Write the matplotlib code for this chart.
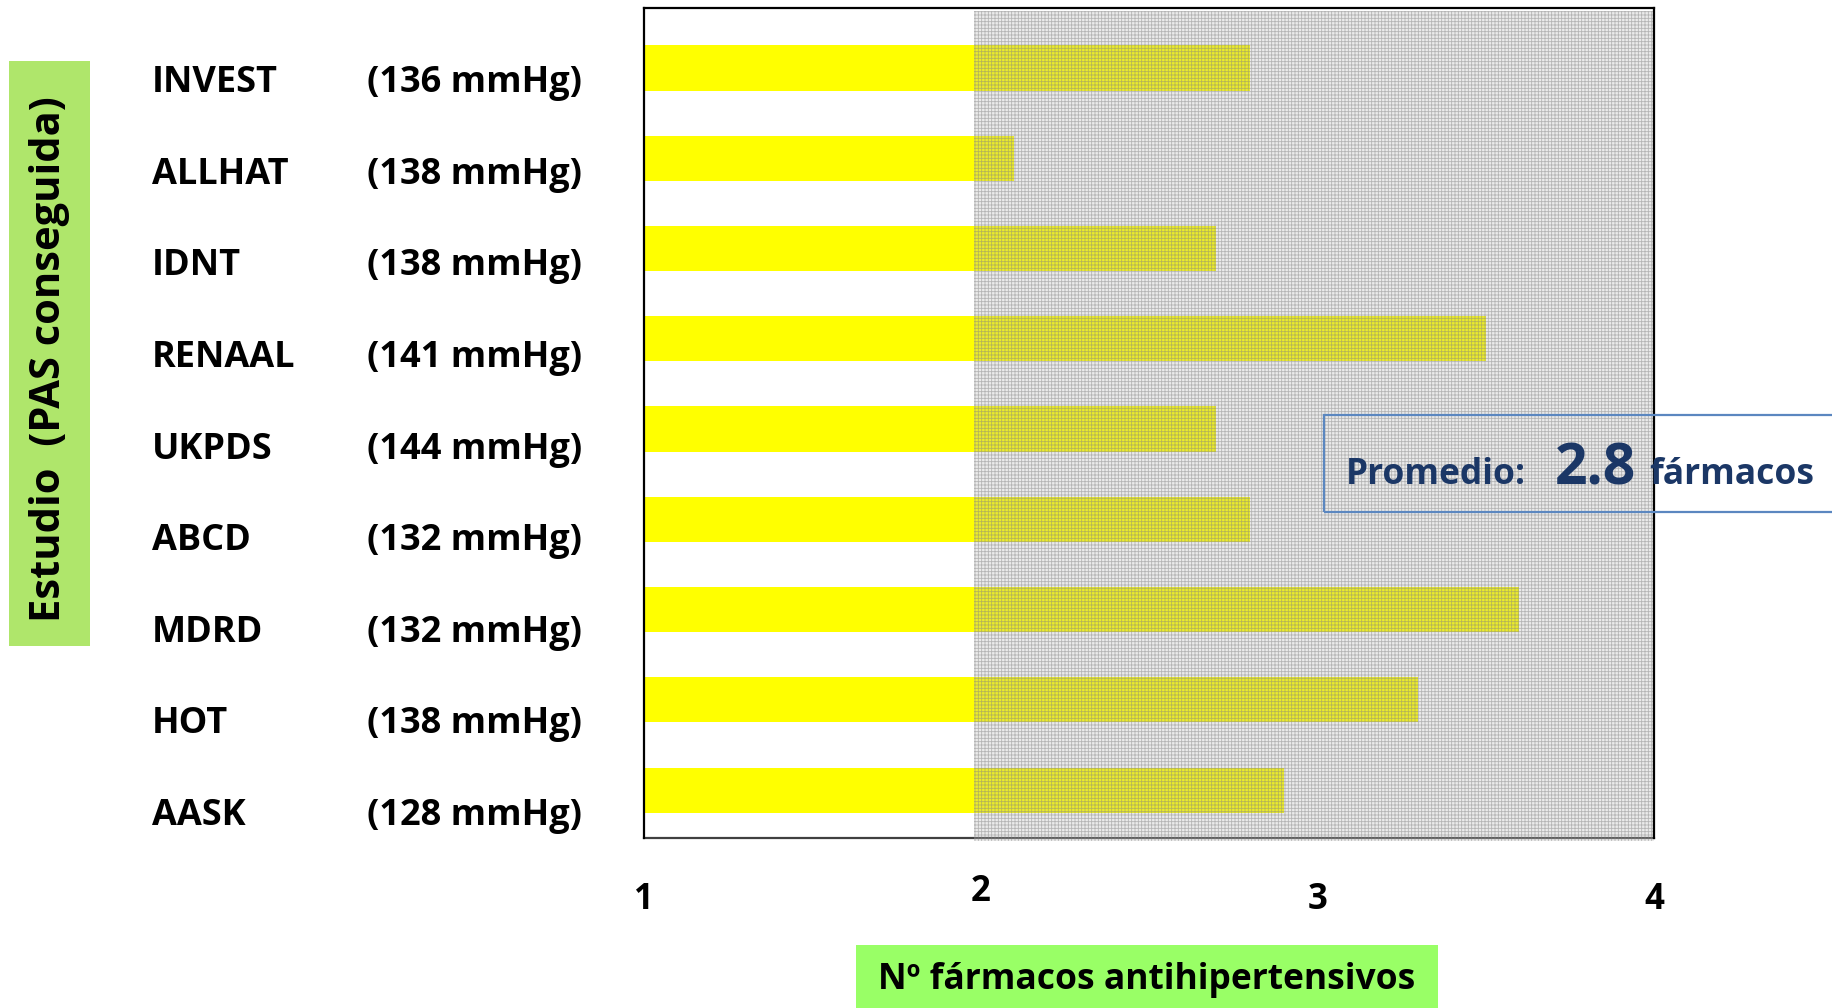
import matplotlib
matplotlib.use("Agg")
import matplotlib.pyplot as plt
from matplotlib.patches import Rectangle
from matplotlib import transforms

plt.rcParams["font.family"] = ["Open Sans", "DejaVu Sans"]
plt.rcParams["font.weight"] = "bold"
plt.rcParams["hatch.linewidth"] = 0.6

# Estudios y PAS conseguida
estudios = ["INVEST", "ALLHAT", "IDNT", "RENAAL", "UKPDS", "ABCD", "MDRD", "HOT", "AASK"]
pas = ["(136 mmHg)", "(138 mmHg)", "(138 mmHg)", "(141 mmHg)", "(144 mmHg)",
       "(132 mmHg)", "(132 mmHg)", "(138 mmHg)", "(128 mmHg)"]
farmacos = [2.8, 2.1, 2.7, 3.5, 2.7, 2.8, 3.6, 3.3, 2.9]
x_ticks = [1, 2, 3, 4]
promedio = 2.8

fig = plt.figure(figsize=(18.33, 10.08), dpi=100)
ax = fig.add_axes([0.3513, 0.1687, 0.5511, 0.8234])

n = len(estudios)
ypos = [n - 1 - i for i in range(n)]

ax.barh(ypos, [v - 1 for v in farmacos], left=1, height=0.5,
        color="#FFFF00", edgecolor="none", zorder=2)

# Zona sombreada a partir de 2 fármacos
zona = Rectangle((1.98, -0.004), 2.02, 1.0,
                 transform=transforms.blended_transform_factory(ax.transData, ax.transAxes),
                 facecolor=(0.7, 0.7, 0.7, 0.25), edgecolor=(0.5, 0.5, 0.5, 0.5),
                 hatch="+++++", linewidth=0, zorder=3, clip_on=False)
ax.add_patch(zona)

ax.set_xlim(1, 4)
ax.set_ylim(-0.53, 8.665)
ax.set_yticks([])
ax.set_xticks(x_ticks)
ax.set_xticklabels([str(t) for t in x_ticks], fontsize=25, fontweight="bold")
ax.tick_params(axis="x", length=0, pad=32)
for lbl, t in zip(ax.get_xticklabels(), x_ticks):
    if t == 2:
        lbl.set_y(0.01)

for side in ["left", "top", "right"]:
    ax.spines[side].set_color("black")
    ax.spines[side].set_linewidth(1.6)
    ax.spines[side].set_zorder(4)
ax.spines["bottom"].set_color("#404040")
ax.spines["bottom"].set_linewidth(1.6)

# Etiquetas de cada estudio
trans = transforms.blended_transform_factory(fig.transFigure, ax.transData)
for i, (y, name, p) in enumerate(zip(ypos, estudios, pas)):
    yl = y - 0.27 - i * 0.0142
    ax.text(0.0829, yl, name, transform=trans, fontsize=26, fontweight="bold",
            va="baseline", ha="left", color="black")
    ax.text(0.2002, yl, p, transform=trans, fontsize=26, fontweight="bold",
            va="baseline", ha="left", color="black")

# Título del eje Y en caja verde
fig.patches.append(Rectangle((9 / 1833, 1 - 646 / 1008), 81 / 1833, 585 / 1008,
                             transform=fig.transFigure, facecolor="#AFE66B",
                             edgecolor="none", zorder=1))
fig.text(50 / 1833, 1 - 359 / 1008, "Estudio  (PAS conseguida)", rotation=90,
         fontsize=30, fontweight="bold", ha="center", va="center", color="black")

# Título del eje X en caja verde
fig.patches.append(Rectangle((856 / 1833, 0), 582 / 1833, 63 / 1008,
                             transform=fig.transFigure, facecolor="#99FF66",
                             edgecolor="none", zorder=1))
fig.text(1147 / 1833, 1 - 980 / 1008, "Nº fármacos antihipertensivos",
         fontsize=25.5, fontweight="bold", ha="center", va="center", color="black")

# Recuadro con el promedio
fig.patches.append(Rectangle((1324 / 1833, 1 - 512 / 1008), 520 / 1833, 97 / 1008,
                             transform=fig.transFigure, facecolor="none",
                             edgecolor="#5B87C0", linewidth=1.6, zorder=5))
base = 1 - 484 / 1008
navy = "#1B3766"
fig.text(1346 / 1833, base, "Promedio:", fontsize=25.5, fontweight="bold",
         color=navy, va="baseline", ha="left", zorder=6)
fig.text(1555 / 1833, base, f"{promedio}", fontsize=41, fontweight="bold",
         color=navy, va="baseline", ha="left", zorder=6)
fig.text(1649 / 1833, base, "fármacos", fontsize=25.5, fontweight="bold",
         color=navy, va="baseline", ha="left", zorder=6)

fig.savefig("out.png", dpi=100)
